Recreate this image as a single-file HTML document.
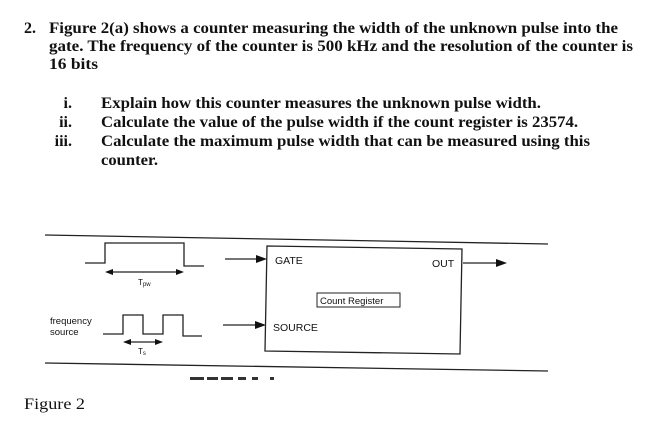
<!DOCTYPE html>
<html><head><style>body{margin:0;background:#fff}svg{display:block}
.s{font-family:"Liberation Serif","Times New Roman",serif}
.a{font-family:"Liberation Sans",Arial,sans-serif}</style></head><body>
<svg width="649" height="425" viewBox="0 0 649 425" xmlns="http://www.w3.org/2000/svg">
<g class="s" font-weight="bold" font-size="16" fill="#111">
<text x="24" y="33">2.</text>
<text x="49" y="33" textLength="569" lengthAdjust="spacingAndGlyphs">Figure 2(a) shows a counter measuring the width of the unknown pulse into the</text>
<text x="49" y="51" textLength="584" lengthAdjust="spacingAndGlyphs">gate. The frequency of the counter is 500 kHz and the resolution of the counter is</text>
<text x="49" y="69" textLength="49" lengthAdjust="spacingAndGlyphs">16 bits</text>
<text x="72" y="108" text-anchor="end">i.</text>
<text x="72" y="127" text-anchor="end">ii.</text>
<text x="72" y="146" text-anchor="end">iii.</text>
<text x="101" y="108" textLength="440" lengthAdjust="spacingAndGlyphs">Explain how this counter measures the unknown pulse width.</text>
<text x="101" y="127" textLength="477" lengthAdjust="spacingAndGlyphs">Calculate the value of the pulse width if the count register is 23574.</text>
<text x="101" y="146" textLength="489" lengthAdjust="spacingAndGlyphs">Calculate the maximum pulse width that can be measured using this</text>
<text x="101" y="165" textLength="57" lengthAdjust="spacingAndGlyphs">counter.</text>
<text x="24" y="409" font-weight="normal" textLength="61" lengthAdjust="spacingAndGlyphs">Figure 2</text>
</g>
<g stroke="#222" fill="none" stroke-width="1.3">
<line x1="45" y1="235" x2="548" y2="244"/>
<line x1="45" y1="363" x2="548" y2="371"/>
<polyline points="85,263 105,263 105,243 184,243 184,266 204,266"/>
<polyline points="103,334 123,334 123,315 143,315 143,334 163,334 163,315 183,315 183,336 202,336"/>
<path d="M267,246 L462,249 L460,354 L265,351 Z"/>
<rect x="317" y="293" width="83" height="14" stroke-width="1"/>
<line x1="110" y1="272" x2="179" y2="272"/>
<line x1="128" y1="342" x2="158" y2="342"/>
<line x1="225" y1="259" x2="258" y2="259"/>
<line x1="223" y1="325" x2="258" y2="325"/>
<line x1="463" y1="263" x2="497" y2="263"/>
</g>
<g fill="#111">
<polygon points="105,272 113,269 113,275"/><polygon points="184,272 176,269 176,275"/>
<polygon points="123,342 131,339 131,345"/><polygon points="163,342 155,339 155,345"/>
<polygon points="267,259 256,255 256,263"/><polygon points="266,325 255,321 255,329"/>
<polygon points="507,263 496,259 496,267"/>
</g>
<g class="a" font-size="10" fill="#111">
<text x="275" y="264" font-size="10.5">GATE</text>
<text x="432" y="267" font-size="10.5">OUT</text>
<text x="273" y="331" font-size="10.5">SOURCE</text>
<text x="320" y="304" font-size="9.5">Count Register</text>
<text x="50" y="324" font-size="9.5">frequency</text>
<text x="50" y="335" font-size="9.5">source</text>
<text x="138" y="285" font-size="8">T<tspan font-size="6" dy="1">pw</tspan></text>
<text x="138" y="354" font-size="8">T<tspan font-size="6" dy="1">s</tspan></text>
</g>
<g fill="#333">
<rect x="190" y="377" width="14" height="3"/><rect x="207" y="377" width="11" height="3"/><rect x="221" y="377" width="12" height="3"/><rect x="238" y="377" width="8" height="3"/><rect x="252" y="377" width="6" height="3"/><rect x="270" y="377" width="4" height="3"/>
</g>
</svg>
</body></html>
